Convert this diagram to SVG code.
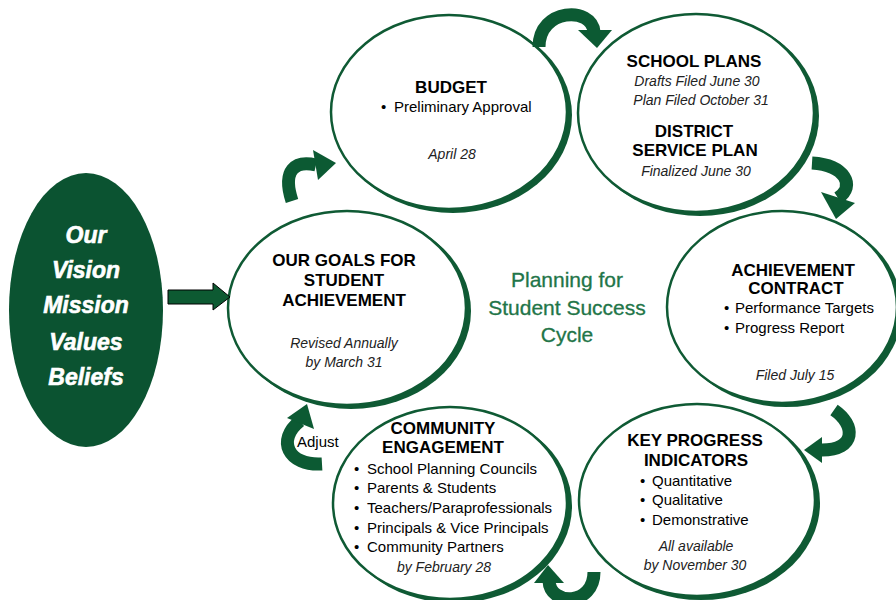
<svg xmlns="http://www.w3.org/2000/svg" width="896" height="600" viewBox="0 0 896 600">
<style>
  .sh { fill: #0f5a34; }
  .el { fill: #ffffff; stroke: #0f5a34; stroke-width: 2.5; }
  .hd { font-family: "Liberation Sans", Arial, sans-serif; font-weight: bold; font-size: 17px; fill: #000; text-anchor: middle; }
  .it { font-family: "Liberation Sans", Arial, sans-serif; font-style: italic; font-size: 14px; fill: #222; text-anchor: middle; }
  .tx { font-family: "Liberation Sans", Arial, sans-serif; font-size: 15px; fill: #000; }
  .wt { font-family: "Liberation Sans", Arial, sans-serif; font-weight: bold; font-style: italic; font-size: 23px; fill: #fff; text-anchor: middle; stroke: #fff; stroke-width: 0.6; }
  .ct { font-family: "Liberation Sans", Arial, sans-serif; font-size: 21px; fill: #227548; text-anchor: middle; stroke: #227548; stroke-width: 0.3; }
  .arc { fill: none; stroke: #0c5a33; stroke-width: 13; }
  .ah { fill: #0c5a33; }
</style>
<rect width="896" height="600" fill="#ffffff"/>

<g id="vision">
  <ellipse cx="86" cy="310" rx="77" ry="137" fill="#0b5331"/>
  <text class="wt" x="86" y="243">Our</text>
  <text class="wt" x="86" y="278">Vision</text>
  <text class="wt" x="86" y="313">Mission</text>
  <text class="wt" x="86" y="350">Values</text>
  <text class="wt" x="86" y="385">Beliefs</text>
</g>

<g id="goals">
  <ellipse class="sh" cx="351" cy="311" rx="120" ry="98"/>
  <ellipse class="el" cx="347" cy="308" rx="119" ry="97"/>
  <text class="hd" x="344" y="266">OUR GOALS FOR</text>
  <text class="hd" x="344" y="286">STUDENT</text>
  <text class="hd" x="344" y="306">ACHIEVEMENT</text>
  <text class="it" x="344" y="348">Revised Annually</text>
  <text class="it" x="344" y="367">by March 31</text>
</g>

<g id="center-title">
  <text class="ct" x="567" y="287">Planning for</text>
  <text class="ct" x="567" y="315">Student Success</text>
  <text class="ct" x="567" y="342">Cycle</text>
</g>

<g id="budget">
  <ellipse class="sh" cx="453" cy="115" rx="119" ry="98"/>
  <ellipse class="el" cx="449" cy="112" rx="118" ry="97"/>
  <text class="hd" x="451" y="93">BUDGET</text>
  <text class="tx" x="381" y="112">•</text>
  <text class="tx" x="394" y="112">Preliminary Approval</text>
  <text class="it" x="452" y="159">April 28</text>
</g>

<g id="school-plans">
  <ellipse class="sh" cx="700" cy="116" rx="119" ry="100"/>
  <ellipse class="el" cx="696" cy="113" rx="118" ry="99"/>
  <text class="hd" x="694" y="67">SCHOOL PLANS</text>
  <text class="it" x="697" y="86">Drafts Filed June 30</text>
  <text class="it" x="701" y="105">Plan Filed October 31</text>
  <text class="hd" x="694" y="137">DISTRICT</text>
  <text class="hd" x="695" y="156">SERVICE PLAN</text>
  <text class="it" x="696" y="176">Finalized June 30</text>
</g>

<g id="achievement-contract">
  <ellipse class="sh" cx="786" cy="310" rx="116" ry="97"/>
  <ellipse class="el" cx="782" cy="307" rx="115" ry="96"/>
  <text class="hd" x="793" y="276">ACHIEVEMENT</text>
  <text class="hd" x="796" y="294">CONTRACT</text>
  <text class="tx" x="724" y="313">•</text>
  <text class="tx" x="735" y="313">Performance Targets</text>
  <text class="tx" x="724" y="333">•</text>
  <text class="tx" x="735" y="333">Progress Report</text>
  <text class="it" x="795" y="380">Filed July 15</text>
</g>

<g id="key-progress">
  <ellipse class="sh" cx="701" cy="503" rx="119" ry="97"/>
  <ellipse class="el" cx="697" cy="500" rx="118" ry="96"/>
  <text class="hd" x="695" y="446">KEY PROGRESS</text>
  <text class="hd" x="696" y="466">INDICATORS</text>
  <text class="tx" x="640" y="486">•</text>
  <text class="tx" x="652" y="486">Quantitative</text>
  <text class="tx" x="640" y="505">•</text>
  <text class="tx" x="652" y="505">Qualitative</text>
  <text class="tx" x="640" y="525">•</text>
  <text class="tx" x="652" y="525">Demonstrative</text>
  <text class="it" x="696" y="551">All available</text>
  <text class="it" x="695" y="570">by November 30</text>
</g>

<g id="community">
  <ellipse class="sh" cx="454" cy="506" rx="118" ry="97"/>
  <ellipse class="el" cx="450" cy="503" rx="117" ry="96"/>
  <text class="hd" x="443" y="434">COMMUNITY</text>
  <text class="hd" x="443" y="453">ENGAGEMENT</text>
  <text class="tx" x="354" y="474">•</text>
  <text class="tx" x="367" y="474">School Planning Councils</text>
  <text class="tx" x="354" y="493">•</text>
  <text class="tx" x="367" y="493">Parents &amp; Students</text>
  <text class="tx" x="354" y="513">•</text>
  <text class="tx" x="367" y="513">Teachers/Paraprofessionals</text>
  <text class="tx" x="354" y="533">•</text>
  <text class="tx" x="367" y="533">Principals &amp; Vice Principals</text>
  <text class="tx" x="354" y="552">•</text>
  <text class="tx" x="367" y="552">Community Partners</text>
  <text class="it" x="444" y="572">by February 28</text>
</g>

<g id="connectors">
  <polygon points="168,290 213,290 213,283 230,297 213,310 213,304 168,304" fill="#0d5a32" stroke="#000" stroke-width="1"/>
  <path class="arc" d="M539 47 C539 8, 592 6, 594 32"/>
  <polygon class="ah" points="578,30 612,30 597,48"/>
  <path class="arc" d="M812 163 C845 165, 856 186, 838 198"/>
  <polygon class="ah" points="821,192 855,203 836,219"/>
  <path class="arc" d="M834 410 C856 425, 856 450, 822 450"/>
  <polygon class="ah" points="822,437 822,463 804,450"/>
  <path class="arc" d="M594 572 C594 606, 550 606, 549 581"/>
  <polygon class="ah" points="534,583 564,583 548,565"/>
  <path class="arc" d="M322 464 C288 466, 276 440, 300 421"/>
  <polygon class="ah" points="287,418 314,429 307,404"/>
  <path class="arc" d="M292 201 C282 170, 295 160, 316 165"/>
  <polygon class="ah" points="313,150 318,180 336,163"/>
  <text class="tx" x="297" y="447">Adjust</text>
</g>
</svg>
